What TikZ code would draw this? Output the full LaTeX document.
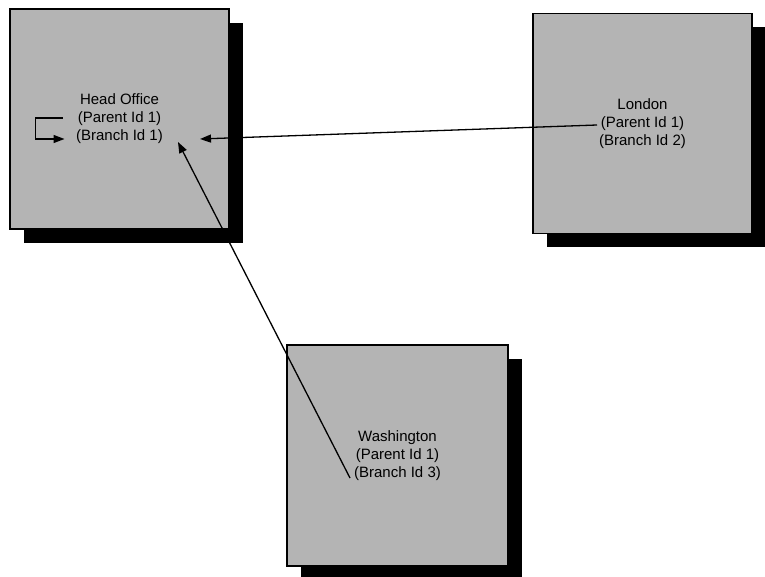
\documentclass[tikz,border=0pt]{standalone}
\usepackage{fontspec}
\setmainfont{Liberation Sans}
\usetikzlibrary{arrows.meta, shadows}

\definecolor{boxgray}{HTML}{B4B4B4}

\begin{document}
\begin{tikzpicture}[x=1pt, y=-1pt,
    every node/.style={font=\fontsize{15}{18}\selectfont},
    branchbox/.style={draw, rectangle, fill=boxgray, line width=1.5pt, align=center,
        minimum width=219pt, minimum height=220pt, inner sep=0pt,
        drop shadow={shadow xshift=14pt, shadow yshift=-14pt, fill=black, opacity=1}},
    link/.style={line width=1.3pt, -{Triangle[length=11pt, width=8pt]}}
]
    \useasboundingbox (0,0) rectangle (765,577);

    % Branches
    \node (head) [branchbox] at (119.5, 119) {Head Office\\(Parent Id 1)\\(Branch Id 1)};
    \node (london) [branchbox] at (642.5, 123.5) {London\\(Parent Id 1)\\(Branch Id 2)};
    \node (washington) [branchbox, minimum width=221pt, minimum height=221pt] at (397.5, 455.5)
        {Washington\\(Parent Id 1)\\(Branch Id 3)};

    % Parent links
    \draw [link] ([shift={(-57,-1)}]head.center) -- ++(-27,0) |- ([shift={(-55,20)}]head.center);
    \draw [link] ([shift={(-45.5,1.5)}]london.center) -- ([shift={(80.5,20)}]head.center);
    \draw [link] ([shift={(-47.5,22.5)}]washington.center) -- ([shift={(58.5,23)}]head.center);

\end{tikzpicture}
\end{document}
